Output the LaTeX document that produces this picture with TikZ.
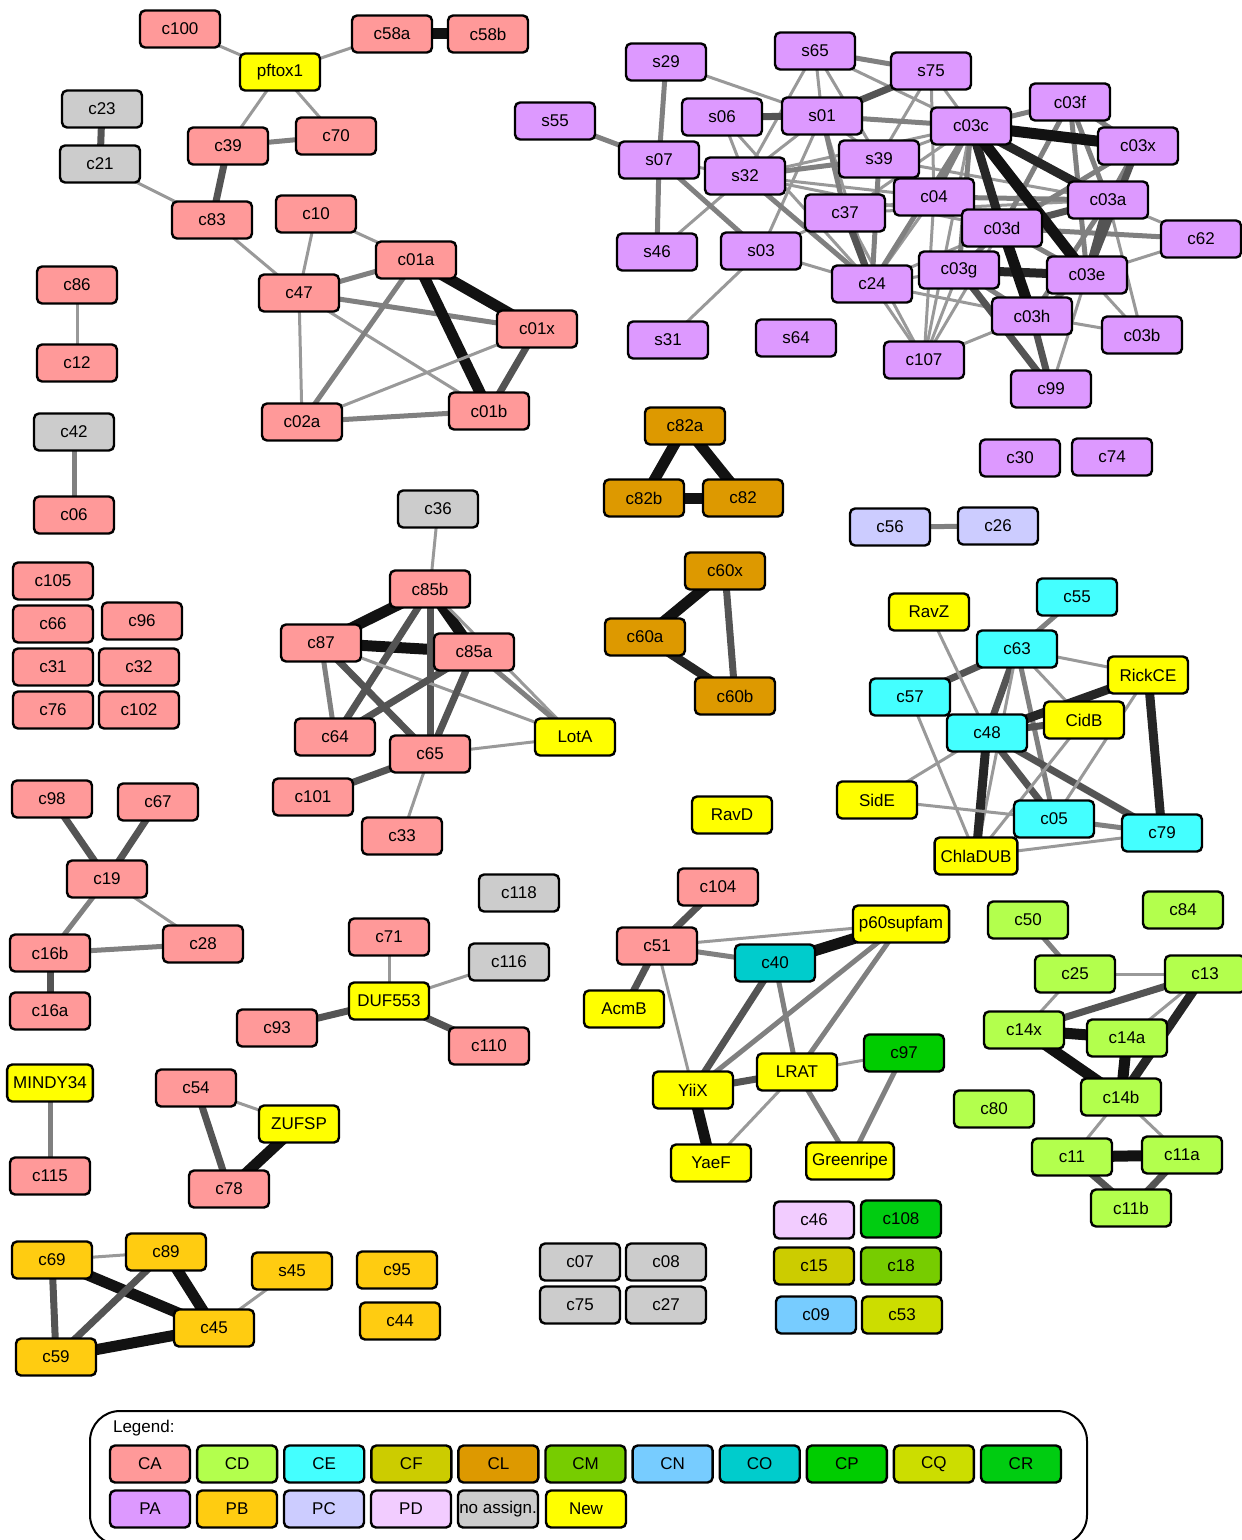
\documentclass[tikz,border=0pt]{standalone}
\usepackage{fontspec}
\setmainfont{Liberation Sans}
\usetikzlibrary{backgrounds}

\definecolor{colCA}{RGB}{255,153,153}
\definecolor{colCD}{RGB}{179,255,77}
\definecolor{colCE}{RGB}{68,255,255}
\definecolor{colCF}{RGB}{204,204,0}
\definecolor{colCL}{RGB}{221,153,0}
\definecolor{colCM}{RGB}{119,204,0}
\definecolor{colCN}{RGB}{119,204,255}
\definecolor{colCO}{RGB}{0,204,204}
\definecolor{colCP}{RGB}{0,204,0}
\definecolor{colCQ}{RGB}{204,221,0}
\definecolor{colCR}{RGB}{0,204,17}
\definecolor{colPA}{RGB}{221,153,255}
\definecolor{colPB}{RGB}{255,204,17}
\definecolor{colPC}{RGB}{204,204,255}
\definecolor{colPD}{RGB}{242,204,255}
\definecolor{colNA}{RGB}{204,204,204}
\definecolor{colNew}{RGB}{255,255,0}

\tikzset{
	box/.style={draw, line width=1.2pt, rounded corners=2.5pt, minimum width=40pt, minimum height=18.5pt, inner xsep=3pt, font=\fontsize{8.5}{10}\selectfont},
	boxCA/.style={box, fill=colCA}, boxCD/.style={box, fill=colCD}, boxCE/.style={box, fill=colCE},
	boxCF/.style={box, fill=colCF}, boxCL/.style={box, fill=colCL}, boxCM/.style={box, fill=colCM},
	boxCN/.style={box, fill=colCN}, boxCO/.style={box, fill=colCO}, boxCP/.style={box, fill=colCP},
	boxCQ/.style={box, fill=colCQ}, boxCR/.style={box, fill=colCR}, boxPA/.style={box, fill=colPA},
	boxPB/.style={box, fill=colPB}, boxPC/.style={box, fill=colPC}, boxPD/.style={box, fill=colPD},
	boxNA/.style={box, fill=colNA}, boxNew/.style={box, fill=colNew},
	wA/.style={draw=black!40, line width=1.5pt},
	wB/.style={draw=black!50, line width=2.5pt},
	wC/.style={draw=black!67, line width=3.5pt},
	wD/.style={draw=black!85, line width=4.5pt},
	wE/.style={draw=black!93, line width=5.5pt}
}

\begin{document}
\begin{tikzpicture}[x=0.5pt, y=-0.5pt]
	\useasboundingbox (0,0) rectangle (1241,1540);
	
	%%%%% CA, top left %%%%%
	\node[boxCA] (c100) at (180,29) {c100};
	\node[boxNew] (pftox1) at (280,72) {pftox1};
	\node[boxCA] (c58a) at (392,34) {c58a};
	\node[boxCA] (c58b) at (488,34) {c58b};
	\node[boxNA] (c23) at (102,109) {c23};
	\node[boxNA] (c21) at (100,164) {c21};
	\node[boxCA] (c39) at (228,146) {c39};
	\node[boxCA] (c70) at (336,136) {c70};
	\node[boxCA] (c83) at (212,220) {c83};
	\node[boxCA] (c10) at (316,214) {c10};
	\node[boxCA] (c01a) at (416,260) {c01a};
	\node[boxCA] (c47) at (299,293) {c47};
	\node[boxCA] (c01x) at (537,329) {c01x};
	\node[boxCA] (c02a) at (302,422) {c02a};
	\node[boxCA] (c01b) at (489,411) {c01b};
	\node[boxCA] (c86) at (77,285) {c86};
	\node[boxCA] (c12) at (77,363) {c12};
	\node[boxNA] (c42) at (74,432) {c42};
	\node[boxCA] (c06) at (74,515) {c06};
	
	%%%%% PA %%%%%
	\node[boxPA] (s29) at (666,62) {s29};
	\node[boxPA] (s65) at (815,51) {s65};
	\node[boxPA] (s75) at (931,71) {s75};
	\node[boxPA] (s55) at (555,121) {s55};
	\node[boxPA] (s06) at (722,117) {s06};
	\node[boxPA] (s01) at (822,116) {s01};
	\node[boxPA] (c03c) at (971,126) {c03c};
	\node[boxPA] (c03f) at (1070,102) {c03f};
	\node[boxPA] (c03x) at (1138,146) {c03x};
	\node[boxPA] (s07) at (659,160) {s07};
	\node[boxPA] (s32) at (745,176) {s32};
	\node[boxPA] (s39) at (879,159) {s39};
	\node[boxPA] (c04) at (934,197) {c04};
	\node[boxPA] (c37) at (845,213) {c37};
	\node[boxPA] (c03a) at (1108,200) {c03a};
	\node[boxPA] (c03d) at (1002,228) {c03d};
	\node[boxPA] (c62) at (1201,239) {c62};
	\node[boxPA] (s46) at (657,252) {s46};
	\node[boxPA] (s03) at (761,251) {s03};
	\node[boxPA] (c24) at (872,284) {c24};
	\node[boxPA] (c03g) at (959,270) {c03g};
	\node[boxPA] (c03e) at (1087,275) {c03e};
	\node[boxPA] (c03h) at (1032,316) {c03h};
	\node[boxPA] (c03b) at (1142,335) {c03b};
	\node[boxPA] (s31) at (668,340) {s31};
	\node[boxPA] (s64) at (796,338) {s64};
	\node[boxPA] (c107) at (924,360) {c107};
	\node[boxPA] (c99) at (1051,389) {c99};
	\node[boxPA] (c30) at (1020,458) {c30};
	\node[boxPA] (c74) at (1112,457) {c74};
	
	%%%%% CL, PC %%%%%
	\node[boxCL] (c82a) at (685,426) {c82a};
	\node[boxCL] (c82b) at (644,498) {c82b};
	\node[boxCL] (c82) at (743,498) {c82};
	\node[boxCL] (c60x) at (725,571) {c60x};
	\node[boxCL] (c60a) at (645,637) {c60a};
	\node[boxCL] (c60b) at (735,696) {c60b};
	\node[boxPC] (c56) at (890,527) {c56};
	\node[boxPC] (c26) at (998,526) {c26};
	
	%%%%% CA, singles %%%%%
	\node[boxCA] (c105) at (53,581) {c105};
	\node[boxCA] (c66) at (53,624) {c66};
	\node[boxCA] (c96) at (142,621) {c96};
	\node[boxCA] (c31) at (53,667) {c31};
	\node[boxCA] (c32) at (139,667) {c32};
	\node[boxCA] (c76) at (53,710) {c76};
	\node[boxCA] (c102) at (139,710) {c102};
	
	%%%%% c85 group %%%%%
	\node[boxNA] (c36) at (438,509) {c36};
	\node[boxCA] (c85b) at (430,589) {c85b};
	\node[boxCA] (c87) at (321,643) {c87};
	\node[boxCA] (c85a) at (474,652) {c85a};
	\node[boxCA] (c64) at (335,737) {c64};
	\node[boxCA] (c65) at (430,754) {c65};
	\node[boxNew] (LotA) at (575,737) {LotA};
	\node[boxCA] (c101) at (313,797) {c101};
	\node[boxCA] (c33) at (402,836) {c33};
	
	%%%%% CE %%%%%
	\node[boxNew] (RavZ) at (929,612) {RavZ};
	\node[boxCE] (c55) at (1077,597) {c55};
	\node[boxCE] (c63) at (1017,649) {c63};
	\node[boxNew] (RickCE) at (1148,675) {RickCE};
	\node[boxCE] (c57) at (910,697) {c57};
	\node[boxNew] (CidB) at (1084,720) {CidB};
	\node[boxCE] (c48) at (987,733) {c48};
	\node[boxNew] (SidE) at (877,800) {SidE};
	\node[boxCE] (c05) at (1054,819) {c05};
	\node[boxCE] (c79) at (1162,833) {c79};
	\node[boxNew] (ChlaDUB) at (976,856) {ChlaDUB};
	\node[boxNew] (RavD) at (732,815) {RavD};
	
	%%%%% c19 group %%%%%
	\node[boxCA] (c98) at (52,799) {c98};
	\node[boxCA] (c67) at (158,802) {c67};
	\node[boxCA] (c19) at (107,879) {c19};
	\node[boxCA] (c16b) at (50,953) {c16b};
	\node[boxCA] (c28) at (203,944) {c28};
	\node[boxCA] (c16a) at (50,1011) {c16a};
	\node[boxNew] (MINDY34) at (50,1083) {MINDY34};
	\node[boxCA] (c115) at (50,1176) {c115};
	\node[boxCA] (c54) at (196,1088) {c54};
	\node[boxNew] (ZUFSP) at (299,1124) {ZUFSP};
	\node[boxCA] (c78) at (229,1189) {c78};
	
	%%%%% DUF553 group %%%%%
	\node[boxNA] (c118) at (519,893) {c118};
	\node[boxCA] (c71) at (389,937) {c71};
	\node[boxNA] (c116) at (509,962) {c116};
	\node[boxNew] (DUF553) at (389,1001) {DUF553};
	\node[boxCA] (c93) at (277,1028) {c93};
	\node[boxCA] (c110) at (489,1046) {c110};
	
	%%%%% c51 group %%%%%
	\node[boxCA] (c104) at (718,887) {c104};
	\node[boxCA] (c51) at (657,946) {c51};
	\node[boxNew] (p60supfam) at (901,924) {p60supfam};
	\node[boxCO] (c40) at (775,963) {c40};
	\node[boxNew] (AcmB) at (624,1009) {AcmB};
	\node[boxNew] (LRAT) at (797,1072) {LRAT};
	\node[boxCP] (c97) at (904,1053) {c97};
	\node[boxNew] (YiiX) at (693,1090) {YiiX};
	\node[boxNew] (YaeF) at (711,1163) {YaeF};
	\node[boxNew] (Greenripe) at (850,1161) {Greenripe};
	
	%%%%% CD %%%%%
	\node[boxCD] (c50) at (1028,920) {c50};
	\node[boxCD] (c84) at (1183,910) {c84};
	\node[boxCD] (c25) at (1075,974) {c25};
	\node[boxCD] (c13) at (1205,974) {c13};
	\node[boxCD] (c14x) at (1024,1030) {c14x};
	\node[boxCD] (c14a) at (1127,1038) {c14a};
	\node[boxCD] (c80) at (994,1109) {c80};
	\node[boxCD] (c14b) at (1121,1097) {c14b};
	\node[boxCD] (c11) at (1072,1157) {c11};
	\node[boxCD] (c11a) at (1182,1155) {c11a};
	\node[boxCD] (c11b) at (1131,1208) {c11b};
	
	%%%%% bottom %%%%%
	\node[boxNA] (c07) at (580,1262) {c07};
	\node[boxNA] (c08) at (666,1262) {c08};
	\node[boxNA] (c75) at (580,1305) {c75};
	\node[boxNA] (c27) at (666,1305) {c27};
	\node[boxPD] (c46) at (814,1220) {c46};
	\node[boxCR] (c108) at (901,1219) {c108};
	\node[boxCF] (c15) at (814,1266) {c15};
	\node[boxCM] (c18) at (901,1266) {c18};
	\node[boxCN] (c09) at (816,1315) {c09};
	\node[boxCQ] (c53) at (902,1315) {c53};
	
	\node[boxPB] (c69) at (52,1260) {c69};
	\node[boxPB] (c89) at (166,1252) {c89};
	\node[boxPB] (s45) at (292,1271) {s45};
	\node[boxPB] (c95) at (397,1270) {c95};
	\node[boxPB] (c45) at (214,1328) {c45};
	\node[boxPB] (c44) at (400,1321) {c44};
	\node[boxPB] (c59) at (56,1357) {c59};
	
	%%%%% edges %%%%%
	\begin{scope}[on background layer]
		\draw[wA] (c100.center) -- (pftox1.center);
		\draw[wA] (pftox1.center) -- (c58a.center);
		\draw[wE] (c58a.center) -- (c58b.center);
		\draw[wA] (pftox1.center) -- (c39.center);
		\draw[wA] (pftox1.center) -- (c70.center);
		\draw[wB] (c39.center) -- (c70.center);
		\draw[wC] (c39.center) -- (c83.center);
		\draw[wC] (c23.center) -- (c21.center);
		\draw[wA] (c21.center) -- (c83.center);
		\draw[wA] (c83.center) -- (c47.center);
		\draw[wA] (c10.center) -- (c47.center);
		\draw[wA] (c10.center) -- (c01a.center);
		\draw[wB] (c47.center) -- (c01a.center);
		\draw[wB] (c47.center) -- (c01x.center);
		\draw[wA] (c47.center) -- (c02a.center);
		\draw[wA] (c47.center) -- (c01b.center);
		\draw[wB] (c01a.center) -- (c02a.center);
		\draw[wE] (c01a.center) -- (c01x.center);
		\draw[wE] (c01a.center) -- (c01b.center);
		\draw[wC] (c01x.center) -- (c01b.center);
		\draw[wA] (c01x.center) -- (c02a.center);
		\draw[wB] (c02a.center) -- (c01b.center);
		\draw[wA] (c86.center) -- (c12.center);
		\draw[wB] (c42.center) -- (c06.center);
		
		% PA
		\foreach \a/\b in {s29/s01, s07/s32, s06/s32, s06/c24, s46/s32, s03/s01, s03/c24, s03/c37, s03/s31,
			s65/s01, s65/s32, s65/s39, s65/c03c, s01/s32, s01/c24, s01/c04, s32/c03d, s32/c04, s32/c03c,
			s75/s39, s75/c04, s75/c03c, s39/c03c, s39/c04, s39/c03a, c37/c03c, c37/c04, c37/c03a, c37/c107,
			c24/c04, c24/c03d, c24/c107, c24/c03h, c24/c03g, c04/c107, c03c/c107, c03a/c62, c03a/c03b,
			c03g/c107, c03e/c62, c03e/c03b, c03e/c99, c03h/c107, c03h/c03b, c107/c03d}
			\draw[wA] (\a.center) -- (\b.center);
		\foreach \a/\b in {s29/s07, s55/s07, s07/s46, s07/s03, s65/s75, s01/c03c, s01/c37, s32/s39, s32/c24,
			s39/c24, c24/c03c, c04/c03c, c04/c03d, c04/c03a, c03c/c03f, c03c/c03g, c03c/c03h, c03f/c03x,
			c03f/c03a, c03f/c03d, c03f/c03e, c03x/c03a, c03x/c03d, c03a/c03h, c03d/c03g, c03d/c62,
			c03d/c03e, c03g/c03h, c03e/c03h}
			\draw[wB] (\a.center) -- (\b.center);
		\foreach \a/\b in {s06/s01, s01/s75, c37/c24, c03x/c03e, c03a/c03d, c03a/c03e, c03g/c99, c03h/c99}
			\draw[wC] (\a.center) -- (\b.center);
		\draw[wD] (c03c.center) -- (c03a.center);
		\draw[wD] (c03c.center) -- (c03d.center);
		\draw[wD] (c03g.center) -- (c03e.center);
		\draw[wE] (c03c.center) -- (c03x.center);
		\draw[wE] (c03c.center) -- (c03e.center);
		\draw[wE] (c03d.center) -- (c03h.center);
		
		% CL, PC
		\draw[wE] (c82a.center) -- (c82b.center);
		\draw[wE] (c82a.center) -- (c82.center);
		\draw[wE] (c82b.center) -- (c82.center);
		\draw[wE] (c60x.center) -- (c60a.center);
		\draw[wD] (c60a.center) -- (c60b.center);
		\draw[wC] (c60x.center) -- (c60b.center);
		\draw[wB] (c56.center) -- (c26.center);
		
		% c85 group
		\draw[wA] (c36.center) -- (c85b.center);
		\draw[wE] (c85b.center) -- (c87.center);
		\draw[wE] (c85b.center) -- (c85a.center);
		\draw[wE] (c87.center) -- (c85a.center);
		\draw[wC] (c85b.center) -- (c65.center);
		\draw[wC] (c85b.center) -- (c64.center);
		\draw[wA] (c85b.center) -- (LotA.center);
		\draw[wB] (c87.center) -- (c64.center);
		\draw[wC] (c87.center) -- (c65.center);
		\draw[wA] (c87.center) -- (LotA.center);
		\draw[wC] (c85a.center) -- (c64.center);
		\draw[wC] (c85a.center) -- (c65.center);
		\draw[wB] (c85a.center) -- (LotA.center);
		\draw[wA] (c65.center) -- (LotA.center);
		\draw[wC] (c65.center) -- (c101.center);
		\draw[wA] (c65.center) -- (c33.center);
		
		% CE
		\draw[wB] (c55.center) -- (c63.center);
		\draw[wC] (c63.center) -- (c57.center);
		\draw[wA] (c63.center) -- (RickCE.center);
		\draw[wC] (c63.center) -- (c48.center);
		\draw[wB] (c63.center) -- (c05.center);
		\draw[wA] (c63.center) -- (CidB.center);
		\draw[wA] (c63.center) -- (ChlaDUB.center);
		\draw[wA] (RavZ.center) -- (c48.center);
		\draw[wA] (c57.center) -- (ChlaDUB.center);
		\draw[wC] (c48.center) -- (CidB.center);
		\draw[wD] (c48.center) -- (RickCE.center);
		\draw[wD] (c48.center) -- (ChlaDUB.center);
		\draw[wC] (c48.center) -- (c05.center);
		\draw[wC] (c48.center) -- (c79.center);
		\draw[wA] (c48.center) -- (SidE.center);
		\draw[wD] (RickCE.center) -- (c79.center);
		\draw[wA] (RickCE.center) -- (c05.center);
		\draw[wA] (CidB.center) -- (ChlaDUB.center);
		\draw[wA] (SidE.center) -- (c05.center);
		\draw[wB] (c05.center) -- (c79.center);
		\draw[wA] (ChlaDUB.center) -- (c79.center);
		
		% c19 group
		\draw[wC] (c98.center) -- (c19.center);
		\draw[wC] (c67.center) -- (c19.center);
		\draw[wB] (c19.center) -- (c16b.center);
		\draw[wA] (c19.center) -- (c28.center);
		\draw[wB] (c16b.center) -- (c28.center);
		\draw[wC] (c16b.center) -- (c16a.center);
		\draw[wB] (MINDY34.center) -- (c115.center);
		\draw[wA] (c54.center) -- (ZUFSP.center);
		\draw[wC] (c54.center) -- (c78.center);
		\draw[wE] (ZUFSP.center) -- (c78.center);
		
		% DUF553 group
		\draw[wA] (c71.center) -- (DUF553.center);
		\draw[wA] (c116.center) -- (DUF553.center);
		\draw[wC] (c93.center) -- (DUF553.center);
		\draw[wC] (DUF553.center) -- (c110.center);
		
		% c51 group
		\draw[wC] (c104.center) -- (c51.center);
		\draw[wA] (c51.center) -- (p60supfam.center);
		\draw[wB] (c51.center) -- (c40.center);
		\draw[wC] (c51.center) -- (AcmB.center);
		\draw[wA] (c51.center) -- (YiiX.center);
		\draw[wE] (c40.center) -- (p60supfam.center);
		\draw[wC] (c40.center) -- (YiiX.center);
		\draw[wB] (c40.center) -- (LRAT.center);
		\draw[wB] (p60supfam.center) -- (YiiX.center);
		\draw[wB] (p60supfam.center) -- (LRAT.center);
		\draw[wC] (YiiX.center) -- (LRAT.center);
		\draw[wE] (YiiX.center) -- (YaeF.center);
		\draw[wA] (LRAT.center) -- (YaeF.center);
		\draw[wA] (LRAT.center) -- (c97.center);
		\draw[wB] (LRAT.center) -- (Greenripe.center);
		\draw[wB] (c97.center) -- (Greenripe.center);
		
		% CD
		\draw[wB] (c50.center) -- (c25.center);
		\draw[wA] (c25.center) -- (c13.center);
		\draw[wA] (c25.center) -- (c14x.center);
		\draw[wC] (c14x.center) -- (c13.center);
		\draw[wE] (c14x.center) -- (c14a.center);
		\draw[wE] (c14x.center) -- (c14b.center);
		\draw[wE] (c14a.center) -- (c14b.center);
		\draw[wD] (c13.center) -- (c14b.center);
		\draw[wA] (c13.center) -- (c14a.center);
		\draw[wA] (c14b.center) -- (c11.center);
		\draw[wA] (c14b.center) -- (c11a.center);
		\draw[wE] (c11.center) -- (c11a.center);
		\draw[wC] (c11.center) -- (c11b.center);
		\draw[wC] (c11a.center) -- (c11b.center);
		
		% PB
		\draw[wA] (c69.center) -- (c89.center);
		\draw[wE] (c69.center) -- (c45.center);
		\draw[wC] (c69.center) -- (c59.center);
		\draw[wE] (c89.center) -- (c45.center);
		\draw[wC] (c89.center) -- (c59.center);
		\draw[wE] (c59.center) -- (c45.center);
		\draw[wA] (s45.center) -- (c45.center);
	\end{scope}
	
	%%%%% legend %%%%%
	\draw[line width=1pt, rounded corners=15pt] (90,1411) rectangle (1087,1545);
	\node[anchor=west, font=\fontsize{8.5}{10}\selectfont] (legtitle) at (106,1428) {Legend:};
	\foreach \g [count=\i from 0] in {CA,CD,CE,CF,CL,CM,CN,CO,CP,CQ,CR}
		\node[box\g] (leg\g) at (150+87.1*\i,1464) {\g};
	\node[boxPA] (legPA) at (150,1509) {PA};
	\node[boxPB] (legPB) at (237,1509) {PB};
	\node[boxPC] (legPC) at (324,1509) {PC};
	\node[boxPD] (legPD) at (411,1509) {PD};
	\node[boxNA, inner xsep=0.5pt] (legNA) at (498,1509) {no assign.};
	\node[boxNew] (legNew) at (586,1509) {New};
\end{tikzpicture}
\end{document}
